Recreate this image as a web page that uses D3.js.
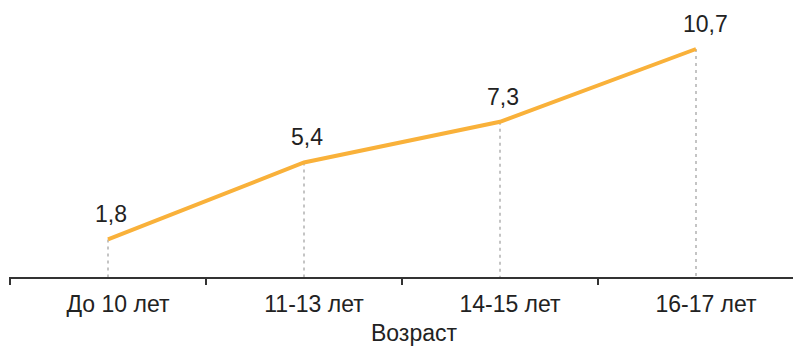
<!DOCTYPE html>
<html><head><meta charset="utf-8">
<script src="https://cdn.jsdelivr.net/npm/d3@7"></script>
<style>body{margin:0;background:#fff}svg{display:block}text{font-family:"Liberation Sans",Arial,sans-serif;fill:#222}</style>
</head><body><svg id="c" width="793" height="346"></svg>
<script>
const categories = ["До 10 лет", "11-13 лет", "14-15 лет", "16-17 лет"];
const values = [1.8, 5.4, 7.3, 10.7];
const valueLabels = ["1,8", "5,4", "7,3", "10,7"];
const axisTitle = "Возраст";

const svg = d3.select("#c");
const x = d3.scaleBand().domain(categories).range([10, 794]).padding(0);
const y = d3.scaleLinear().domain([0, 10.7]).range([278, 49]);
const cx = d => x(d) + x.bandwidth() / 2;

// dotted drop lines
svg.append("g").selectAll("line").data(categories).join("line")
  .attr("x1", d => cx(d)).attr("x2", d => cx(d))
  .attr("y1", (d, i) => y(values[i])).attr("y2", y(0))
  .attr("stroke", "#c4c4c4").attr("stroke-width", 2).attr("stroke-dasharray", "3,4");

// axis
const ax = svg.append("g").attr("transform", `translate(0,${y(0)})`);
ax.append("line").attr("x1", 10).attr("x2", 793).attr("y1", 0).attr("y2", 0)
  .attr("stroke", "#333").attr("stroke-width", 2);
ax.selectAll("line.t").data(categories).join("line").attr("class", "t")
  .attr("x1", d => x(d)).attr("x2", d => x(d)).attr("y1", -1).attr("y2", 7)
  .attr("stroke", "#333").attr("stroke-width", 2);
ax.selectAll("text").data(categories).join("text")
  .attr("x", d => cx(d) + 10).attr("y", 34).attr("text-anchor", "middle")
  .attr("font-size", 23).text(d => d);

svg.append("text").attr("x", 414).attr("y", 341).attr("text-anchor", "middle")
  .attr("font-size", 23).text(axisTitle);

// line
const line = d3.line().x((d, i) => cx(categories[i])).y(d => y(d));
svg.append("path").datum(values).attr("d", line).attr("fill", "none")
  .attr("stroke", "#F9B13A").attr("stroke-width", 4);

// value labels
svg.append("g").selectAll("text").data(values).join("text")
  .attr("x", (d, i) => cx(categories[i]) - 13).attr("y", d => y(d) - 17)
  .attr("font-size", 23).text((d, i) => valueLabels[i]);
</script></body></html>
